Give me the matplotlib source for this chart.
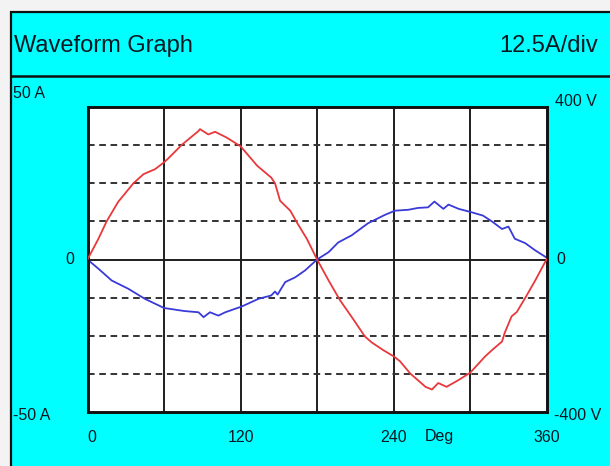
import matplotlib
matplotlib.use("Agg")
import matplotlib.pyplot as plt
from matplotlib.patches import Rectangle
from matplotlib.lines import Line2D

# ---- data -------------------------------------------------------------
volt_deg = [0, 8.5, 15, 24, 36, 44, 53, 60, 63, 74, 87, 88.2, 94.7, 100, 109,
            120, 133, 144, 147, 151, 159, 164, 172, 180, 189, 198, 208, 217.5,
            223, 232, 240.5, 245, 253, 265, 270, 275, 281.5, 291, 300, 311.5,
            317, 325, 327, 332.5, 336.5, 344, 351, 359, 360]
volt_v = [0, 54, 100, 151, 200, 224, 237, 255, 264, 301, 337, 342, 328, 335, 320,
          297, 246, 215, 200, 154, 128, 98, 54, 0, -55, -107, -155, -202,
          -218, -238, -255, -267, -299, -334, -341, -324, -334, -316, -297, -255,
          -238, -215, -193, -149, -138, -96, -55, -5, 0]

curr_deg = [0, 8.5, 19, 32, 45, 60, 76, 87, 91, 96, 102.6, 108, 121, 134, 144,
            147, 149, 155, 163, 170.5, 180, 189, 196.6, 207, 220, 233, 241,
            251.5, 259, 267, 272, 279, 283, 291, 301, 310, 317, 325, 330, 335,
            343, 351, 360]
curr_a = [0, -3.0, -6.9, -9.6, -12.9, -15.9, -16.9, -17.3, -18.9, -17.3, -18.4,
          -17.3, -15.4, -12.9, -11.8, -10.5, -11.5, -7.4, -5.8, -3.6, 0, 2.4,
          5.6, 7.9, 11.9, 14.6, 16.0, 16.3, 16.9, 17.1, 19.0, 16.6, 18.0, 16.6,
          15.5, 14.4, 12.5, 10.0, 10.8, 6.8, 5.4, 3.0, 0.6]

title = "Waveform Graph"
scale_text = "12.5A/div"
amp_labels = ["50 A", "0", "-50 A"]
volt_labels = ["400 V", "0", "-400 V"]
deg_ticks = [0, 120, 240, 360]
deg_unit = "Deg"

amp_div = 12.5
volt_div = 100
n_ydiv = 8
deg_step = 60

# ---- figure -----------------------------------------------------------
W, H = 610, 466
plt.rcParams["font.family"] = ["Liberation Sans", "DejaVu Sans"]
fig = plt.figure(figsize=(W / 100, H / 100), dpi=100, facecolor="#f3f3f3")

def fx(px):
    return px / W

def fy(py):
    return 1 - py / H

# cyan panel with dark frame, kept underneath the plot
fig.patches.append(Rectangle((fx(11), -0.05), 1.2, fy(12) + 0.05,
                             transform=fig.transFigure, facecolor="#00ffff",
                             edgecolor="#101010", linewidth=1.6, zorder=-10))
fig.lines.append(Line2D([fx(11), 1], [fy(76), fy(76)], transform=fig.transFigure,
                        color="#101010", linewidth=1.8, zorder=-5))

txt_color = "#0b1822"
fig.text(fx(14), fy(46), title, fontsize=17, color=txt_color,
         ha="left", va="center")
fig.text(fx(598), fy(46), scale_text, fontsize=17, color=txt_color,
         ha="right", va="center")

# plotting area
left, right, top, bottom = 87.5, 546.7, 107, 412
ax = fig.add_axes([fx(left), fy(bottom), fx(right - left), (bottom - top) / H])
ax.set_facecolor("white")
amp_max = amp_div * n_ydiv / 2
volt_max = volt_div * n_ydiv / 2
ax.set_xlim(0, 360)
ax.set_ylim(-amp_max, amp_max)
ax2 = ax.twinx()
ax2.set_ylim(-volt_max, volt_max)

for a in (ax, ax2):
    a.set_xticks([])
    a.set_yticks([])
    for s in a.spines.values():
        s.set_linewidth(1.9)
        s.set_color("#111111")

# grid
for d in range(deg_step, 360, deg_step):
    ax.axvline(d, color="#1e1e1e", linewidth=1.4, zorder=1)
for k in range(1, n_ydiv // 2):
    for sgn in (1, -1):
        ax.axhline(sgn * k * amp_div, color="#333333", linewidth=1.4,
                   linestyle=(0, (3.4, 2.4)), zorder=1)
ax.axhline(0, color="#1e1e1e", linewidth=1.4, zorder=1)

ax.plot(curr_deg, curr_a, color="#3a3ad8", linewidth=1.3, zorder=3)
ax2.plot(volt_deg, volt_v, color="#e8383c", linewidth=1.3, zorder=3)

# axis labels
lab_fs = 11.5
fig.text(fx(13), fy(93), amp_labels[0], fontsize=lab_fs, color=txt_color,
         ha="left", va="center")
fig.text(fx(70), fy(259), amp_labels[1], fontsize=lab_fs, color=txt_color,
         ha="center", va="center")
fig.text(fx(13), fy(415), amp_labels[2], fontsize=lab_fs, color=txt_color,
         ha="left", va="center")
fig.text(fx(555), fy(101), volt_labels[0], fontsize=lab_fs, color=txt_color,
         ha="left", va="center")
fig.text(fx(556), fy(259), volt_labels[1], fontsize=lab_fs, color=txt_color,
         ha="left", va="center")
fig.text(fx(554), fy(415), volt_labels[2], fontsize=lab_fs, color=txt_color,
         ha="left", va="center")

for d in deg_ticks:
    ax.annotate(str(d), xy=(d, 0), xycoords=("data", "axes fraction"),
                xytext=(0, -18), textcoords="offset points",
                ha="left" if d == 0 else "center", va="center",
                fontsize=lab_fs, color=txt_color, annotation_clip=False)
ax.annotate(deg_unit, xy=(276, 0), xycoords=("data", "axes fraction"),
            xytext=(0, -18), textcoords="offset points", ha="center",
            va="center", fontsize=lab_fs, color=txt_color,
            annotation_clip=False)

fig.savefig("out.png", dpi=100, facecolor=fig.get_facecolor())
